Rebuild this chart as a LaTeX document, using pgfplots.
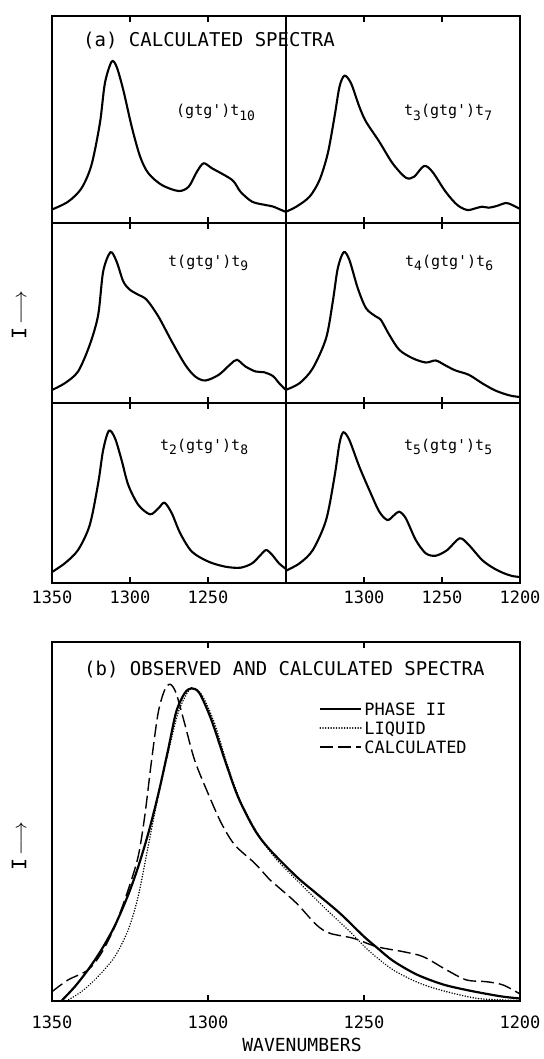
\documentclass[border=0pt]{standalone}
\usepackage{pgfplots}
\pgfplotsset{compat=1.18}
\usepackage{fontspec}
\setmainfont{DejaVu Sans Mono}
\newcommand\sub[1]{\raisebox{-0.28em}{\fontsize{13}{13}\selectfont #1}}
\newcommand\pr{\textquotesingle}
\newcommand\lbl[1]{\fontsize{15}{15}\selectfont #1}
\begin{document}
\begin{tikzpicture}[x=1pt,y=1pt]
\useasboundingbox (0,0) rectangle (543,-1059);
\pgfplotsset{
  every axis/.append style={
    scale only axis, x dir=reverse, xmin=1200, xmax=1350, ymin=0,
    ytick=\empty, xtick={1300,1250}, xticklabels={},
    axis line style={line width=1.7pt},
    every tick/.style={black, line width=1.3pt},
    major tick length=6pt, clip=true,
    xticklabel style={font=\fontsize{17}{17}\selectfont, inner sep=0pt, anchor=north, yshift=-8pt},
  },
  curve/.style={black, line width=2.1pt, smooth, tension=0.5},
}
% ---------- panel (a), row 1 ----------
\begin{axis}[at={(52pt,-16pt)}, anchor=north west, width=234pt, height=207pt, ymax=207]
\addplot[curve] coordinates {
(1350,13.5) (1339.7,21.3) (1331.1,34.7) (1324.7,58) (1319.3,99.7) (1316.1,139.7)
(1311.8,161.3) (1308.6,156.3) (1304.3,133) (1298.9,96.3) (1293.5,66.3) (1288.2,49.7)
(1279.6,38) (1268.9,32) (1262.4,36.3) (1257.1,51.3) (1252.8,59.7) (1247.4,54.7)
(1234.5,43) (1229.2,31.3) (1221.7,21.3) (1213.1,18) (1208.4,16.5) (1204.5,14) (1200,11)};
\end{axis}
\begin{axis}[at={(286pt,-16pt)}, anchor=north west, width=234pt, height=207pt, ymax=207]
\addplot[curve] coordinates {
(1350,11.3) (1343.4,16.3) (1334.9,26.3) (1328.5,43) (1323.2,69.7) (1318.9,106.3)
(1315.7,136.3) (1312.5,147.3) (1308.3,139.7) (1303,116.3) (1298.7,101.3) (1290.2,81.3)
(1281.7,59.7) (1273.2,45.3) (1267.9,46.3) (1261.5,57) (1256.2,51.3) (1247.7,31.3)
(1240.2,18) (1233.8,13) (1228.5,14.7) (1224.3,16.3) (1220,15.3) (1215,17) (1209,20)
(1205,18) (1200,14)};
\end{axis}
% ---------- row 2 ----------
\begin{axis}[at={(52pt,-223pt)}, anchor=north west, width=234pt, height=180pt, ymax=180]
\addplot[curve] coordinates {
(1350,13) (1341.8,19.8) (1333.3,31.5) (1325.8,58.2) (1320.4,88) (1317.2,131.5)
(1312.5,150.8) (1308.6,141.5) (1304.3,121.5) (1300,113.2) (1294.6,108.2) (1289.3,103.2)
(1281.8,86.5) (1273.2,61.5) (1264.6,38.2) (1258.2,26.5) (1251.7,22.5) (1243.1,28.2)
(1235.6,38.8) (1231.4,43.2) (1226,36.5) (1219.5,31.5) (1214.2,30.8) (1208.4,27)
(1204.5,20) (1200,13)};
\end{axis}
\begin{axis}[at={(286pt,-223pt)}, anchor=north west, width=234pt, height=180pt, ymax=180]
\addplot[curve] coordinates {
(1350,13.2) (1341.3,19.8) (1332.8,34.8) (1324.3,64.8) (1320,101.5) (1316.8,134.8)
(1313,150.8) (1309.4,143.2) (1304,114.8) (1298.7,94.8) (1292.4,86.5) (1289.2,83.2)
(1283.8,68.2) (1277.4,53.2) (1268.9,44.8) (1260.4,40.5) (1254,42.5) (1247.7,37.5)
(1241.3,32.5) (1232.8,28.2) (1224.3,19.8) (1216.8,13.2) (1210.2,9.2) (1205,7) (1200,6)};
\end{axis}
% ---------- row 3 ----------
\begin{axis}[at={(52pt,-403pt)}, anchor=north west, width=234pt, height=180pt, ymax=180,
  xtick={1350,1300,1250}, xticklabels={1350,1300,1250}]
\addplot[curve] coordinates {
(1350,11) (1341.8,19.7) (1333.3,33) (1325.8,58) (1320.4,99.7) (1317.2,133)
(1313.5,152.3) (1309.6,144.7) (1305.4,123) (1301.1,98) (1294.6,78) (1287.1,68.7)
(1281.8,74.7) (1277.9,80.3) (1273.2,69.7) (1267.8,49.7) (1260.3,31.3) (1249.6,21.3)
(1238.8,16.3) (1229.2,15.3) (1221.7,19.7) (1216.3,28) (1212.7,33) (1208.8,28)
(1204.5,19.7) (1200,14)};
\end{axis}
\begin{axis}[at={(286pt,-403pt)}, anchor=north west, width=234pt, height=180pt, ymax=180,
  xtick={1300,1250,1200}, xticklabels={1300,1250,1200}]
\addplot[curve] coordinates {
(1350,12.3) (1341.3,19.7) (1332.8,33) (1324.3,63) (1318.9,106.3) (1315.7,139.7)
(1313.2,150.7) (1309.4,143) (1303,116.3) (1296.6,93) (1290.2,71.3) (1284.9,63)
(1280.6,68) (1277.4,71.3) (1273.2,64.7) (1266.8,43) (1260.4,29.7) (1254,27.3)
(1246.6,33) (1238.7,44.7) (1232.8,38) (1224.3,23) (1216.8,14.7) (1210.2,9.7)
(1205,7) (1200,6)};
\end{axis}
% ---------- panel (b) ----------
\begin{axis}[at={(52pt,-642pt)}, anchor=north west, width=468pt, height=359pt, ymax=359,
  xtick={1350,1300,1250,1200}, xticklabels={1350,1300,1250,1200},
  xticklabel style={yshift=-7pt},
  legend style={at={(0.5705,0.836)}, anchor=north west, draw=none, fill=none,
    font=\fontsize{17}{17}\selectfont, row sep=3pt, inner sep=0pt,
    nodes={text height=12pt, text depth=0pt, inner sep=2pt}, cells={anchor=west}},
  legend image code/.code={\draw[#1] (0pt,0pt) -- (41pt,0pt);}]
\addplot[black, line width=2.2pt, smooth, tension=0.5] coordinates {
(1347,0) (1342.7,14.3) (1338.5,31) (1334.2,51) (1329.9,75) (1325.6,106)
(1322.4,134) (1319.2,167) (1316,206) (1312.8,251) (1310.2,289) (1307.5,307.7)
(1305.3,312.7) (1302.7,307.7) (1298.9,281) (1294.6,241) (1290.4,204.3) (1285,171)
(1280.1,151) (1271.6,124.3) (1266.2,110) (1257.7,87.7) (1250.2,65) (1245.9,53.5)
(1240.6,40) (1233.1,26.5) (1224.6,16.5) (1216,10.3) (1206.4,4.8) (1200,2.5)};
\addlegendentry{PHASE II}
\addplot[black, line width=1.6pt, line cap=round, dash pattern=on 0.1pt off 2.6pt, smooth, tension=0.5] coordinates {
(1345.4,0) (1340.6,9.3) (1335.3,24.3) (1329.9,44.3) (1325.6,71) (1322.4,104.3)
(1319.2,154.3) (1316,204.3) (1312.8,248) (1309.6,288) (1306.4,309.3) (1304.3,312.7)
(1301.6,304.3) (1297.9,277.7) (1293.6,234.3) (1289.3,197.7) (1283,162) (1277.6,140)
(1271.6,121) (1263,94.3) (1254.5,69.3) (1248.1,49.3) (1240.6,31) (1232.1,17.7)
(1223.5,9.3) (1213.9,2.7) (1205.4,1) (1200,0.5)};
\addlegendentry{LIQUID}
\addplot[black, line width=1.4pt, dash pattern=on 13pt off 5pt, smooth, tension=0.5] coordinates {
(1350,9.3) (1344.9,21) (1338.5,31) (1334.2,47.7) (1329.9,74.3) (1325.6,111)
(1322.4,144.3) (1320.3,184.3) (1318.2,237.7) (1316,287.7) (1313.9,311) (1312.1,316.7)
(1310.2,307.7) (1307.5,277.7) (1304.3,241) (1300,207.7) (1295.7,177.7) (1291.4,156)
(1285,137.7) (1280.1,121) (1277.6,114.3) (1271.6,97.7) (1265.2,76) (1260.9,67.7)
(1253.4,62.7) (1245.9,54.3) (1237.4,49.3) (1231,44.3) (1223.5,31) (1217.1,21)
(1210.7,19.3) (1205.4,16) (1200,7)};
\addlegendentry{CALCULATED}
\end{axis}
% ---------- texts ----------
\node[anchor=base west, inner sep=0pt, font=\fontsize{19}{19}\selectfont] at (83,-47) {(a) CALCULATED SPECTRA};
\node[anchor=base west, inner sep=0pt, font=\fontsize{19}{19}\selectfont] at (84,-675) {(b) OBSERVED AND CALCULATED SPECTRA};
\node[anchor=base west, inner sep=0pt] at (176,-116) {\lbl{(gtg\pr)t\sub{10}}};
\node[anchor=base west, inner sep=0pt] at (404,-116) {\lbl{t\sub{3}(gtg\pr)t\sub{7}}};
\node[anchor=base west, inner sep=0pt] at (168,-266) {\lbl{t(gtg\pr)t\sub{9}}};
\node[anchor=base west, inner sep=0pt] at (405,-266) {\lbl{t\sub{4}(gtg\pr)t\sub{6}}};
\node[anchor=base west, inner sep=0pt] at (160,-450) {\lbl{t\sub{2}(gtg\pr)t\sub{8}}};
\node[anchor=base west, inner sep=0pt] at (404,-450) {\lbl{t\sub{5}(gtg\pr)t\sub{5}}};
\node[rotate=90, inner sep=0pt, font=\fontsize{20}{20}\selectfont] at (19,-315) {I\,$\longrightarrow$};
\node[rotate=90, inner sep=0pt, font=\fontsize{20}{20}\selectfont] at (19,-846) {I\,$\longrightarrow$};
\node[inner sep=0pt, font=\fontsize{18}{18}\selectfont] at (302,-1045) {WAVENUMBERS};
\end{tikzpicture}
\end{document}
